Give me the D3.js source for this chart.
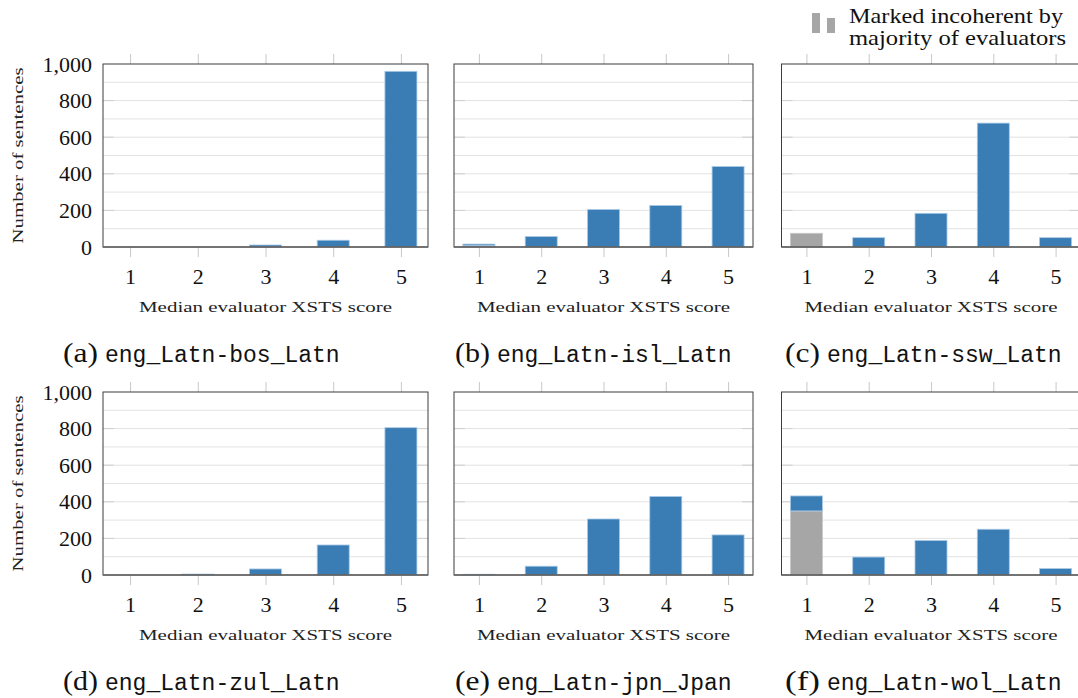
<!DOCTYPE html>
<html>
<head>
<meta charset="utf-8">
<script src="https://cdn.jsdelivr.net/npm/d3@7"></script>
<style>
  html, body { margin: 0; padding: 0; background: #fff; }
  svg { display: block; }
</style>
</head>
<body>
<svg id="chart" width="1078" height="698"></svg>
<script>
// ---------- data ----------
const categories = [1, 2, 3, 4, 5];
const yTicks = [0, 200, 400, 600, 800, 1000];
const yMinorGrid = [100, 200, 300, 400, 500, 600, 700, 800, 900];
const panelLetters = ["(a)", "(b)", "(c)", "(d)", "(e)", "(f)"];
const pairNames = ["eng_Latn-bos_Latn", "eng_Latn-isl_Latn", "eng_Latn-ssw_Latn",
                   "eng_Latn-zul_Latn", "eng_Latn-jpn_Jpan", "eng_Latn-wol_Latn"];
// sentences marked incoherent by majority (grey) and remaining (blue), per score 1..5
const incoherentA = [0, 0, 0, 0, 0];
const coherentA   = [0, 0, 11, 37, 960];
const incoherentB = [8, 0, 0, 0, 0];
const coherentB   = [8, 57, 205, 227, 440];
const incoherentC = [75, 0, 0, 0, 0];
const coherentC   = [0, 51, 184, 677, 51];
const incoherentD = [0, 0, 0, 0, 0];
const coherentD   = [0, 5, 33, 164, 805];
const incoherentE = [0, 0, 0, 0, 0];
const coherentE   = [4, 48, 306, 429, 219];
const incoherentF = [350, 0, 0, 0, 0];
const coherentF   = [82, 98, 188, 250, 35];
const xLabel = "Median evaluator XSTS score";
const yLabel = "Number of sentences";
const legendLines = ["Marked incoherent by", "majority of evaluators"];

const incoherentAll = [incoherentA, incoherentB, incoherentC, incoherentD, incoherentE, incoherentF];
const coherentAll = [coherentA, coherentB, coherentC, coherentD, coherentE, coherentF];

// ---------- layout ----------
const BLUE = "#3a7db5", BLUE_EDGE = "#a9c9e6", GREY = "#a6a6a6", GREY_EDGE = "#c8c8c8";
const SERIF = "'Liberation Serif', 'DejaVu Serif', serif";
const MONO = "'Liberation Mono', 'DejaVu Sans Mono', monospace";
const cols = [{left: 103, width: 325}, {left: 454, width: 299}, {left: 781.5, width: 299}];
const rows = [{top: 64, height: 183}, {top: 392, height: 183}];
const captionX = [63, 455, 785];

const svg = d3.select("#chart");

panelLetters.forEach((letter, i) => {
  const col = cols[i % 3], row = rows[Math.floor(i / 3)];
  const left = col.left, right = col.left + col.width;
  const top = row.top, bottom = row.top + row.height;
  const x = d3.scaleLinear().domain([0.6, 5.4]).range([left, right]);
  const y = d3.scaleLinear().domain([0, 1000]).range([bottom, top]);
  const g = svg.append("g");

  // horizontal grid
  g.selectAll("line.grid").data(yMinorGrid).join("line")
    .attr("x1", left).attr("x2", right)
    .attr("y1", d => y(d)).attr("y2", d => y(d))
    .attr("stroke", "#e3e3e3").attr("stroke-width", 1);
  // inner major tick marks (left and right)
  yTicks.slice(1, -1).forEach(v => {
    g.append("line").attr("x1", left).attr("x2", left + 11)
      .attr("y1", y(v)).attr("y2", y(v)).attr("stroke", "#cfcfcf");
    g.append("line").attr("x1", right - 11).attr("x2", right)
      .attr("y1", y(v)).attr("y2", y(v)).attr("stroke", "#cfcfcf");
  });

  // bars
  const barW = 32;
  const inc = incoherentAll[i], coh = coherentAll[i];
  const stacked = categories.map((c, k) => ({c, inc: inc[k], coh: coh[k]}));
  g.selectAll("rect.inc").data(stacked.filter(d => d.inc > 0)).join("rect")
    .attr("x", d => x(d.c) - barW / 2).attr("width", barW)
    .attr("y", d => y(d.inc)).attr("height", d => y(0) - y(d.inc))
    .attr("fill", GREY).attr("stroke", GREY_EDGE).attr("stroke-width", 0.8);
  g.selectAll("rect.coh").data(stacked.filter(d => d.coh > 0)).join("rect")
    .attr("x", d => x(d.c) - barW / 2).attr("width", barW)
    .attr("y", d => y(d.inc + d.coh)).attr("height", d => y(d.inc) - y(d.inc + d.coh))
    .attr("fill", BLUE).attr("stroke", BLUE_EDGE).attr("stroke-width", 0.8);

  // x axis (ticks outside top and bottom)
  const xb = g.append("g").attr("transform", `translate(0,${bottom})`)
    .call(d3.axisBottom(x).tickValues(categories).tickSize(10).tickPadding(11).tickFormat(d3.format("d")));
  xb.select(".domain").remove();
  xb.selectAll(".tick line").attr("stroke", "#c8c8c8");
  xb.selectAll(".tick text").attr("font-family", SERIF).attr("font-size", 22).attr("fill", "#111");
  const xt = g.append("g").attr("transform", `translate(0,${top})`)
    .call(d3.axisTop(x).tickValues(categories).tickSize(10).tickFormat(""));
  xt.select(".domain").remove();
  xt.selectAll(".tick line").attr("stroke", "#c8c8c8");

  // y axis labels only in first column
  if (i % 3 === 0) {
    const ya = g.append("g").attr("transform", `translate(${left},0)`)
      .call(d3.axisLeft(y).tickValues(yTicks).tickSize(0).tickPadding(11).tickFormat(d3.format(",")));
    ya.select(".domain").remove();
    ya.selectAll(".tick text").attr("font-family", SERIF).attr("font-size", 22).attr("fill", "#111");
    g.append("text")
      .attr("transform", `translate(23,${(top + bottom) / 2}) rotate(-90)`)
      .attr("text-anchor", "middle")
      .attr("font-family", SERIF).attr("font-size", 15.5).attr("fill", "#222")
      .attr("textLength", 176).attr("lengthAdjust", "spacingAndGlyphs")
      .text(yLabel);
  }

  // frame
  g.append("rect").attr("x", left).attr("y", top)
    .attr("width", right - left).attr("height", bottom - top)
    .attr("fill", "none").attr("stroke", "#3c3c3c").attr("stroke-width", 1);
  g.append("line").attr("x1", left).attr("x2", right)
    .attr("y1", y(0)).attr("y2", y(0)).attr("stroke", "#666").attr("stroke-width", 1.5);

  // x label
  g.append("text")
    .attr("x", (left + right) / 2).attr("y", bottom + 65)
    .attr("text-anchor", "middle")
    .attr("font-family", SERIF).attr("font-size", 15.5).attr("fill", "#222")
    .attr("textLength", 253).attr("lengthAdjust", "spacingAndGlyphs")
    .text(xLabel);

  // caption
  const cy = bottom + 115;
  g.append("text").attr("x", captionX[i % 3]).attr("y", cy)
    .attr("font-family", SERIF).attr("font-size", 27).attr("fill", "#111")
    .attr("textLength", 35).attr("lengthAdjust", "spacingAndGlyphs")
    .text(letter);
  g.append("text").attr("x", captionX[i % 3] + 42).attr("y", cy)
    .attr("font-family", MONO).attr("font-size", 23).attr("fill", "#111")
    .text(pairNames[i]);
});

// legend
const lg = svg.append("g");
lg.append("rect").attr("x", 812).attr("y", 13).attr("width", 8).attr("height", 20).attr("fill", GREY);
lg.append("rect").attr("x", 827).attr("y", 18).attr("width", 8).attr("height", 15).attr("fill", GREY);
lg.selectAll("text").data(legendLines).join("text")
  .attr("x", 849).attr("y", (d, k) => 23 + k * 22)
  .attr("font-family", SERIF).attr("font-size", 21).attr("fill", "#111")
  .attr("textLength", (d, k) => k === 0 ? 214 : 217).attr("lengthAdjust", "spacingAndGlyphs")
  .text(d => d);
</script>
</body>
</html>
